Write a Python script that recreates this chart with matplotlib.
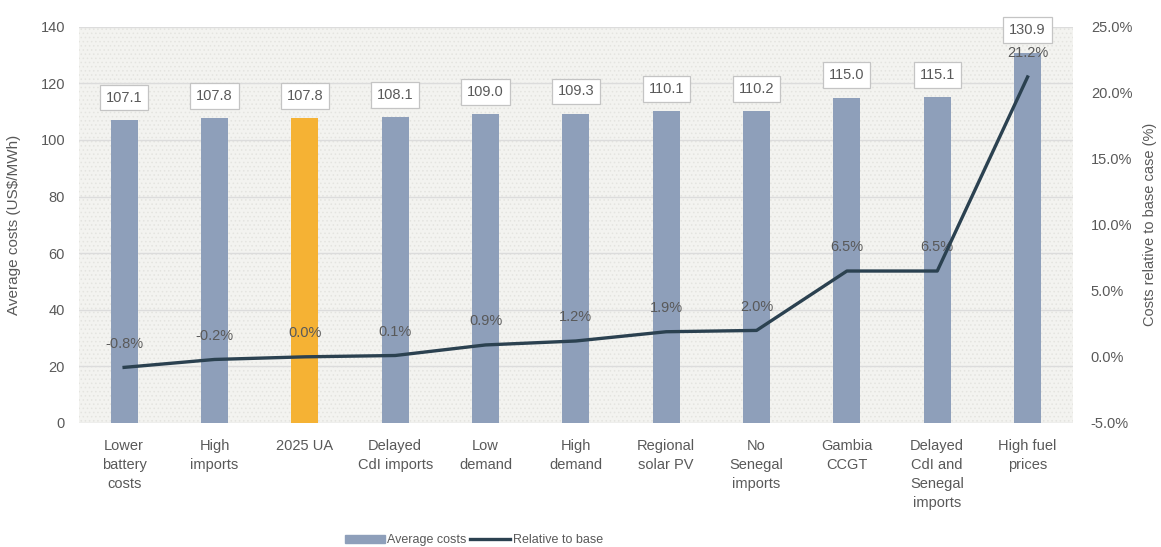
import matplotlib
matplotlib.use("Agg")
import matplotlib.pyplot as plt
from matplotlib.ticker import FuncFormatter
from matplotlib.lines import Line2D
from matplotlib.patches import Patch, Rectangle

plt.rcParams['font.family'] = ['Liberation Sans', 'DejaVu Sans']
plt.rcParams['hatch.linewidth'] = 0.6

categories = ["Lower\nbattery\ncosts", "High\nimports", "2025 UA", "Delayed\nCdI imports",
              "Low\ndemand", "High\ndemand", "Regional\nsolar PV", "No\nSenegal\nimports",
              "Gambia\nCCGT", "Delayed\nCdI and\nSenegal\nimports", "High fuel\nprices"]
avg_costs = [107.1, 107.8, 107.8, 108.1, 109.0, 109.3, 110.1, 110.2, 115.0, 115.1, 130.9]
relative = [-0.8, -0.2, 0.0, 0.1, 0.9, 1.2, 1.9, 2.0, 6.5, 6.5, 21.2]
highlight = "2025 UA"

bar_color = "#8e9fba"
hl_color = "#f5b234"
line_color = "#2b4150"
text_color = "#595959"

fig = plt.figure(figsize=(11.61, 5.47), dpi=100)
ax = fig.add_axes([0.068, 0.227, 0.856, 0.724])
ax2 = ax.twinx()

x = list(range(len(categories)))
colors = [hl_color if c == highlight else bar_color for c in categories]
ax.set_facecolor("#f3f3f0")
ax.add_patch(Rectangle((0, 0), 1, 1, transform=ax.transAxes, facecolor='#f3f3f0',
                       edgecolor='#e4e4e0', hatch='....', lw=0, zorder=0))
ax.bar(x, avg_costs, width=0.3, color=colors, zorder=3)
ax.set_ylim(0, 140)
ax.set_yticks(range(0, 141, 20))
ax.set_xlim(-0.5, len(categories) - 0.5)
ax.grid(axis='y', color='#dcdcdc', linewidth=1, zorder=1)
ax.set_axisbelow(True)
for s in ax.spines.values():
    s.set_visible(False)
for s in ax2.spines.values():
    s.set_visible(False)
ax.set_xticks(x)
ax.set_xticklabels(categories, fontsize=10.5, color=text_color, linespacing=1.45)
ax.tick_params(axis='x', length=0, pad=12, labelcolor=text_color, labelsize=10.5)
ax.tick_params(axis='y', length=0, pad=10, labelcolor=text_color, labelsize=10.5)
ax.set_ylabel("Average costs (US$/MWh)", color=text_color, fontsize=11, labelpad=14)

for xi, v in zip(x, avg_costs):
    ax.annotate(f"{v:.1f}", (xi, v), xytext=(0, 16), textcoords='offset points',
                ha='center', va='center', fontsize=10.5, color=text_color, zorder=5,
                bbox=dict(boxstyle='square,pad=0.4', fc='white', ec='#c4c4c4', lw=0.9))

ax2.plot(x, relative, color=line_color, linewidth=2.4, zorder=4)
ax2.set_ylim(-5, 25)
ax2.set_yticks(range(-5, 26, 5))
ax2.yaxis.set_major_formatter(FuncFormatter(lambda v, p: f"{v:.1f}%"))
ax2.tick_params(axis='y', length=0, pad=13, labelcolor=text_color, labelsize=10.5)
ax2.set_ylabel("Costs relative to base case (%)", color=text_color, fontsize=10.5, labelpad=8)
for xi, v in zip(x, relative):
    ax2.annotate(f"{v:.1f}%", (xi, v), xytext=(0, 17), textcoords='offset points',
                 ha='center', va='center', fontsize=10.5, color=text_color)

handles = [Patch(color=bar_color, label="Average costs"),
           Line2D([0], [0], color=line_color, lw=2.4, label="Relative to base")]
fig.legend(handles=handles, loc='center', ncol=2, frameon=False,
           bbox_to_anchor=(0.408, 0.012), fontsize=9, labelcolor=text_color,
           handlelength=3.2, handleheight=0.5, columnspacing=0.3, handletextpad=0.2)

fig.savefig("out.png", dpi=100)
